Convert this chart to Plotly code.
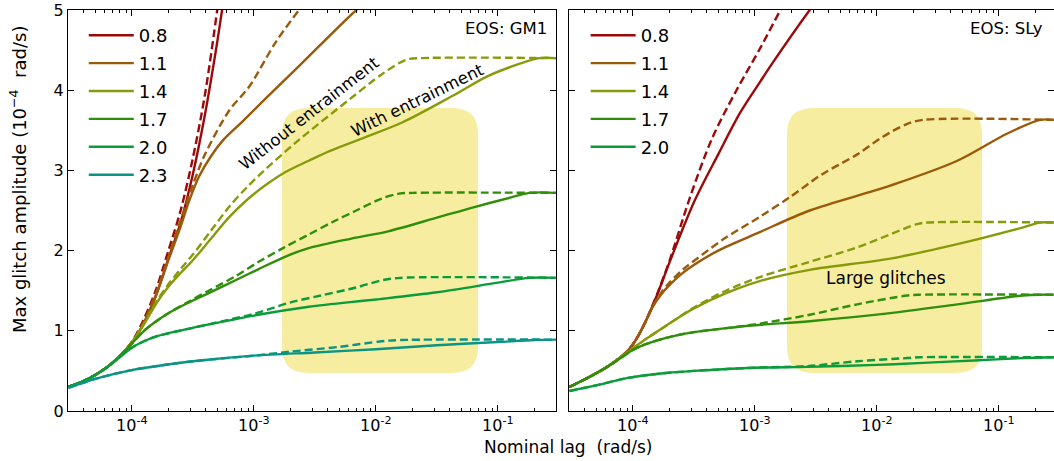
import plotly.graph_objects as go

# ---------------- data (log10 of nominal lag, max glitch amplitude in 1e-4 rad/s) ----
masses = ["0.8", "1.1", "1.4", "1.7", "2.0", "2.3"]
colors = ["#9b0a0a", "#9b5a0a", "#879b0a", "#2f8f0a", "#0a9b3a", "#0a9484"]

# EOS GM1 -- with entrainment (solid) / without entrainment (dashed)
gm1_08_x = [-4.52, -4.4, -4.3, -4.2, -4.1, -4.0, -3.9, -3.8, -3.7, -3.6, -3.5, -3.4, -3.3, -3.26, -3.2]
gm1_08_y = [0.30, 0.37, 0.45, 0.55, 0.68, 0.85, 1.1, 1.45, 1.9, 2.35, 2.95, 3.7, 4.6, 5.0, 5.6]
gm1_08d_x = [-4.52, -4.4, -4.3, -4.2, -4.1, -4.0, -3.9, -3.8, -3.7, -3.6, -3.5, -3.4, -3.3, -3.25]
gm1_08d_y = [0.30, 0.37, 0.45, 0.55, 0.68, 0.86, 1.15, 1.52, 2.0, 2.5, 3.15, 3.95, 5.0, 5.6]

gm1_11_x = [-4.52, -4.4, -4.3, -4.2, -4.1, -4.0, -3.9, -3.8, -3.7, -3.6, -3.53, -3.45, -3.35, -3.25, -3.1, -2.9, -2.63, -2.16, -2.0]
gm1_11_y = [0.30, 0.37, 0.45, 0.55, 0.68, 0.85, 1.1, 1.45, 1.88, 2.3, 2.62, 2.92, 3.18, 3.38, 3.6, 3.9, 4.3, 5.0, 5.2]
gm1_11d_x = [-4.52, -4.4, -4.3, -4.2, -4.1, -4.0, -3.9, -3.8, -3.7, -3.6, -3.5, -3.4, -3.2, -3.04, -2.82, -2.63, -2.5]
gm1_11d_y = [0.30, 0.37, 0.45, 0.55, 0.68, 0.86, 1.12, 1.48, 1.92, 2.38, 2.82, 3.2, 3.75, 4.04, 4.6, 5.0, 5.25]

gm1_14_x = [-4.52, -4.4, -4.3, -4.2, -4.1, -4.0, -3.9, -3.8, -3.7, -3.6, -3.5, -3.35, -3.2, -3.05, -2.9, -2.74, -2.55, -2.38, -2.11, -1.78, -1.37, -1.09, -0.82, -0.66, -0.52]
gm1_14_y = [0.30, 0.37, 0.45, 0.55, 0.68, 0.85, 1.08, 1.34, 1.55, 1.72, 1.88, 2.15, 2.42, 2.64, 2.82, 2.98, 3.12, 3.24, 3.4, 3.6, 3.93, 4.17, 4.33, 4.4, 4.4]
gm1_14d_x = [-4.52, -4.4, -4.3, -4.2, -4.1, -4.0, -3.9, -3.8, -3.7, -3.6, -3.5, -3.35, -3.2, -3.05, -2.9, -2.63, -2.22, -1.95, -1.75, -1.62, -0.52]
gm1_14d_y = [0.30, 0.37, 0.45, 0.55, 0.68, 0.85, 1.09, 1.36, 1.58, 1.77, 1.95, 2.25, 2.55, 2.8, 3.02, 3.38, 3.88, 4.2, 4.38, 4.4, 4.4]

gm1_17_x = [-4.52, -4.4, -4.3, -4.2, -4.1, -4.0, -3.9, -3.8, -3.7, -3.55, -3.37, -3.15, -2.96, -2.75, -2.55, -2.2, -1.9, -1.5, -1.2, -0.9, -0.74, -0.52]
gm1_17_y = [0.30, 0.37, 0.45, 0.55, 0.68, 0.84, 1.0, 1.12, 1.22, 1.34, 1.47, 1.63, 1.77, 1.92, 2.03, 2.15, 2.24, 2.41, 2.54, 2.66, 2.72, 2.72]
gm1_17d_x = [-4.52, -4.4, -4.3, -4.2, -4.1, -4.0, -3.9, -3.8, -3.7, -3.55, -3.37, -3.15, -2.96, -2.75, -2.55, -2.35, -2.16, -1.95, -1.81, -1.7, -0.52]
gm1_17d_y = [0.30, 0.37, 0.45, 0.55, 0.68, 0.84, 1.0, 1.12, 1.22, 1.35, 1.5, 1.68, 1.86, 2.04, 2.2, 2.36, 2.5, 2.65, 2.71, 2.72, 2.72]

gm1_20_x = [-4.52, -4.4, -4.3, -4.2, -4.1, -4.0, -3.9, -3.8, -3.7, -3.55, -3.4, -3.2, -3.0, -2.55, -2.0, -1.5, -1.0, -0.74, -0.52]
gm1_20_y = [0.30, 0.37, 0.45, 0.55, 0.67, 0.79, 0.87, 0.93, 0.97, 1.02, 1.07, 1.13, 1.19, 1.30, 1.39, 1.48, 1.60, 1.66, 1.66]
gm1_20d_x = [-4.52, -4.4, -4.3, -4.2, -4.1, -4.0, -3.9, -3.8, -3.7, -3.55, -3.4, -3.2, -3.0, -2.71, -2.45, -2.16, -1.95, -1.8, -0.52]
gm1_20d_y = [0.30, 0.37, 0.45, 0.55, 0.67, 0.79, 0.87, 0.93, 0.97, 1.02, 1.07, 1.14, 1.21, 1.35, 1.44, 1.54, 1.63, 1.66, 1.66]

gm1_23_x = [-4.52, -4.42, -4.3, -4.15, -4.0, -3.75, -3.5, -3.0, -2.5, -2.0, -1.5, -1.0, -0.7, -0.52]
gm1_23_y = [0.29, 0.34, 0.40, 0.46, 0.51, 0.57, 0.62, 0.69, 0.73, 0.77, 0.82, 0.86, 0.885, 0.89]
gm1_23d_x = [-4.52, -4.42, -4.3, -4.15, -4.0, -3.75, -3.5, -3.0, -2.7, -2.3, -1.95, -1.8, -0.52]
gm1_23d_y = [0.29, 0.34, 0.40, 0.46, 0.51, 0.57, 0.62, 0.69, 0.74, 0.80, 0.87, 0.885, 0.89]

# EOS SLy
sly_08_x = [-4.52, -4.4, -4.3, -4.2, -4.1, -4.03, -3.97, -3.9, -3.8, -3.7, -3.5, -3.3, -3.12, -2.95, -2.85, -2.55, -2.45]
sly_08_y = [0.30, 0.39, 0.47, 0.56, 0.67, 0.77, 0.9, 1.1, 1.45, 1.85, 2.6, 3.2, 3.72, 4.12, 4.35, 5.0, 5.2]
sly_08d_x = [-4.52, -4.4, -4.3, -4.2, -4.1, -4.03, -3.97, -3.9, -3.8, -3.7, -3.53, -3.35, -3.15, -2.95, -2.79, -2.7]
sly_08d_y = [0.30, 0.39, 0.47, 0.56, 0.67, 0.77, 0.9, 1.1, 1.46, 1.87, 2.67, 3.4, 4.0, 4.54, 5.0, 5.25]

sly_11_x = [-4.52, -4.4, -4.3, -4.2, -4.1, -4.03, -3.97, -3.9, -3.84, -3.77, -3.7, -3.6, -3.5, -3.3, -2.96, -2.55, -1.89, -1.34, -0.93, -0.66, -0.55]
sly_11_y = [0.30, 0.39, 0.47, 0.56, 0.67, 0.77, 0.9, 1.1, 1.29, 1.45, 1.57, 1.71, 1.82, 2.0, 2.23, 2.5, 2.81, 3.12, 3.46, 3.63, 3.63]
sly_11d_x = [-4.52, -4.4, -4.3, -4.2, -4.1, -4.03, -3.97, -3.9, -3.84, -3.77, -3.7, -3.6, -3.5, -3.25, -2.96, -2.71, -2.45, -2.16, -1.95, -1.75, -1.62, -0.55]
sly_11d_y = [0.30, 0.39, 0.47, 0.56, 0.67, 0.77, 0.9, 1.1, 1.3, 1.47, 1.6, 1.75, 1.87, 2.15, 2.42, 2.67, 2.95, 3.2, 3.42, 3.58, 3.63, 3.63]

sly_14_x = [-4.52, -4.4, -4.3, -4.2, -4.1, -4.0, -3.9, -3.8, -3.65, -3.51, -3.25, -2.96, -2.55, -1.89, -1.34, -0.8, -0.66, -0.55]
sly_14_y = [0.30, 0.39, 0.47, 0.56, 0.67, 0.78, 0.89, 0.99, 1.14, 1.27, 1.46, 1.62, 1.76, 1.9, 2.08, 2.29, 2.35, 2.35]
sly_14d_x = [-4.52, -4.4, -4.3, -4.2, -4.1, -4.0, -3.9, -3.8, -3.65, -3.51, -3.25, -2.96, -2.55, -2.16, -1.67, -1.58, -0.55]
sly_14d_y = [0.30, 0.39, 0.47, 0.56, 0.67, 0.78, 0.89, 0.99, 1.14, 1.28, 1.49, 1.67, 1.86, 2.04, 2.33, 2.35, 2.35]

sly_17_x = [-4.52, -4.4, -4.3, -4.2, -4.1, -4.0, -3.9, -3.8, -3.65, -3.51, -3.25, -3.0, -2.55, -1.89, -1.34, -0.8, -0.66, -0.55]
sly_17_y = [0.30, 0.39, 0.47, 0.56, 0.66, 0.76, 0.83, 0.88, 0.94, 0.98, 1.03, 1.07, 1.12, 1.22, 1.33, 1.44, 1.45, 1.45]
sly_17d_x = [-4.52, -4.4, -4.3, -4.2, -4.1, -4.0, -3.9, -3.8, -3.65, -3.51, -3.25, -3.0, -2.55, -2.16, -1.75, -1.65, -0.55]
sly_17d_y = [0.30, 0.39, 0.47, 0.56, 0.66, 0.76, 0.83, 0.88, 0.94, 0.98, 1.03, 1.08, 1.2, 1.33, 1.44, 1.45, 1.45]

sly_20_x = [-4.52, -4.3, -4.05, -3.75, -3.5, -3.0, -2.57, -2.0, -1.62, -1.2, -0.8, -0.55]
sly_20_y = [0.25, 0.32, 0.41, 0.47, 0.50, 0.54, 0.55, 0.575, 0.60, 0.63, 0.66, 0.67]
sly_20d_x = [-4.52, -4.3, -4.05, -3.75, -3.5, -3.0, -2.57, -2.16, -1.75, -1.65, -0.55]
sly_20d_y = [0.25, 0.32, 0.41, 0.47, 0.50, 0.54, 0.56, 0.62, 0.66, 0.67, 0.67]

lag_tickvals = [1e-4, 1e-3, 1e-2, 1e-1]
lag_ticktext = ["10<sup>-4</sup>", "10<sup>-3</sup>", "10<sup>-2</sup>", "10<sup>-1</sup>"]
amp_tickvals = [0, 1, 2, 3, 4, 5]

gm1_curves = [
    (gm1_08_x, gm1_08_y, gm1_08d_x, gm1_08d_y),
    (gm1_11_x, gm1_11_y, gm1_11d_x, gm1_11d_y),
    (gm1_14_x, gm1_14_y, gm1_14d_x, gm1_14d_y),
    (gm1_17_x, gm1_17_y, gm1_17d_x, gm1_17d_y),
    (gm1_20_x, gm1_20_y, gm1_20d_x, gm1_20d_y),
    (gm1_23_x, gm1_23_y, gm1_23d_x, gm1_23d_y),
]
sly_curves = [
    (sly_08_x, sly_08_y, sly_08d_x, sly_08d_y),
    (sly_11_x, sly_11_y, sly_11d_x, sly_11d_y),
    (sly_14_x, sly_14_y, sly_14d_x, sly_14d_y),
    (sly_17_x, sly_17_y, sly_17d_x, sly_17d_y),
    (sly_20_x, sly_20_y, sly_20d_x, sly_20d_y),
]

# ---------------- figure ----------------
FONT = "DejaVu Sans"
W, H = 1054, 461
ML, MR, MT, MB = 68, 0, 10, 50
PW = W - ML - MR
PH = H - MT - MB
left_dom = [0.0, 488 / PW]
right_dom = [501 / PW, 1.0]

fig = go.Figure()


def add_panel(curves, xa, ya, legend):
    for i, (xs, ys, xd, yd) in enumerate(curves):
        c = colors[i]
        fig.add_trace(go.Scatter(
            x=[10 ** v for v in xd], y=yd, mode="lines", xaxis=xa, yaxis=ya,
            line=dict(color=c, width=2.4, dash="8px,4px", shape="spline", smoothing=0.9),
            showlegend=False, hoverinfo="skip"))
        fig.add_trace(go.Scatter(
            x=[10 ** v for v in xs], y=ys, mode="lines", xaxis=xa, yaxis=ya,
            line=dict(color=c, width=2.4, shape="spline", smoothing=0.9),
            name=masses[i], legend=legend, legendgroup=legend + masses[i]))


add_panel(gm1_curves, "x", "y", "legend")
add_panel(sly_curves, "x2", "y2", "legend2")

minor_vals = [m * 10 ** e for e in range(-5, 0) for m in range(2, 10)]

axis_common = dict(
    type="log", showline=True, linecolor="black", linewidth=1, mirror="ticks",
    ticks="inside", ticklen=6, tickcolor="black", showgrid=False, zeroline=False,
    tickvals=lag_tickvals, ticktext=lag_ticktext, automargin=False, ticklabeloverflow="allow",
    tickfont=dict(family=FONT, size=16, color="black"),
    minor=dict(ticks="inside", ticklen=3, tickcolor="black", tickvals=minor_vals, showgrid=False),
)
yaxis_common = dict(
    range=[0, 5], showline=True, linecolor="black", linewidth=1, mirror="ticks",
    ticks="inside", ticklen=6, tickcolor="black", showgrid=False, zeroline=False,
    tickvals=amp_tickvals, tickfont=dict(family=FONT, size=16, color="black"),
    automargin=False, ticklabeloverflow="allow",
)

x_lo = -4.523
fig.update_layout(
    width=W, height=H,
    margin=dict(l=ML, r=MR, t=MT, b=MB, pad=0),
    paper_bgcolor="white", plot_bgcolor="white",
    font=dict(family=FONT, size=16, color="black"),
    xaxis=dict(domain=left_dom, range=[x_lo, x_lo + 4.0], anchor="y", **axis_common),
    xaxis2=dict(domain=right_dom, range=[x_lo, x_lo + 485 / 122], anchor="y2", **axis_common),
    yaxis=dict(domain=[0, 1], anchor="x", **yaxis_common),
    yaxis2=dict(domain=[0, 1], anchor="x2", showticklabels=False, **yaxis_common),
    legend=dict(x=0.016, y=0.9825, xanchor="left", yanchor="top", bgcolor="rgba(0,0,0,0)",
                font=dict(family=FONT, size=18), itemwidth=45, tracegroupgap=1.5),
    legend2=dict(x=0.525, y=0.9825, xanchor="left", yanchor="top", bgcolor="rgba(0,0,0,0)",
                 font=dict(family=FONT, size=18), itemwidth=45, tracegroupgap=1.5),
)


# rounded highlight boxes (paper coordinates)
def rounded_box(x0px, x1px, y0px, y1px, r=26):
    X = lambda p: (p - ML) / PW
    Y = lambda p: (H - MB - p) / PH
    rx, ry = r / PW, r / PH
    x0, x1, yt, yb = X(x0px), X(x1px), Y(y0px), Y(y1px)
    return (f"M {x0 + rx},{yt} L {x1 - rx},{yt} Q {x1},{yt} {x1},{yt - ry} "
            f"L {x1},{yb + ry} Q {x1},{yb} {x1 - rx},{yb} L {x0 + rx},{yb} "
            f"Q {x0},{yb} {x0},{yb + ry} L {x0},{yt - ry} Q {x0},{yt} {x0 + rx},{yt} Z")


for (a, b) in [(282, 478), (787, 982)]:
    fig.add_shape(type="path", path=rounded_box(a, b, 108, 373), xref="paper", yref="paper",
                  fillcolor="#f7eda0", line=dict(width=0), layer="below")


def note(text, xref, yref, x, y, angle=0, xanchor="center", size=16):
    fig.add_annotation(text=text, xref=xref, yref=yref, x=x, y=y, xanchor=xanchor,
                       yanchor="middle", showarrow=False, textangle=angle,
                       font=dict(family=FONT, size=size, color="black"))


note("EOS: GM1", "x domain", "y domain", 0.985, 0.955, xanchor="right", size=16.5)
note("EOS: SLy", "x2 domain", "y2 domain", 0.982, 0.955, xanchor="right", size=16.5)
note("Without entrainment", "x domain", "y domain", 0.494, 0.742, angle=-38, size=16.5)
note("With entrainment", "x domain", "y domain", 0.716, 0.774, angle=-26, size=16.5)
note("Large glitches", "x2 domain", "y2 domain", 0.653, 0.332, size=17)
note("Nominal lag  (rad/s)", "paper", "paper", (568 - ML) / PW, -(447 - (H - MB)) / PH, size=17)
note("Max glitch amplitude (10<sup>−4</sup>\u00a0 rad/s)", "paper", "paper",
     (18 - ML) / PW, (H - MB - 180) / PH, angle=-90, size=18)

fig.write_html("out.html", config={"displayModeBar": False},
               post_script="document.body.style.margin='0px';"
               "document.documentElement.style.margin='0px';")
